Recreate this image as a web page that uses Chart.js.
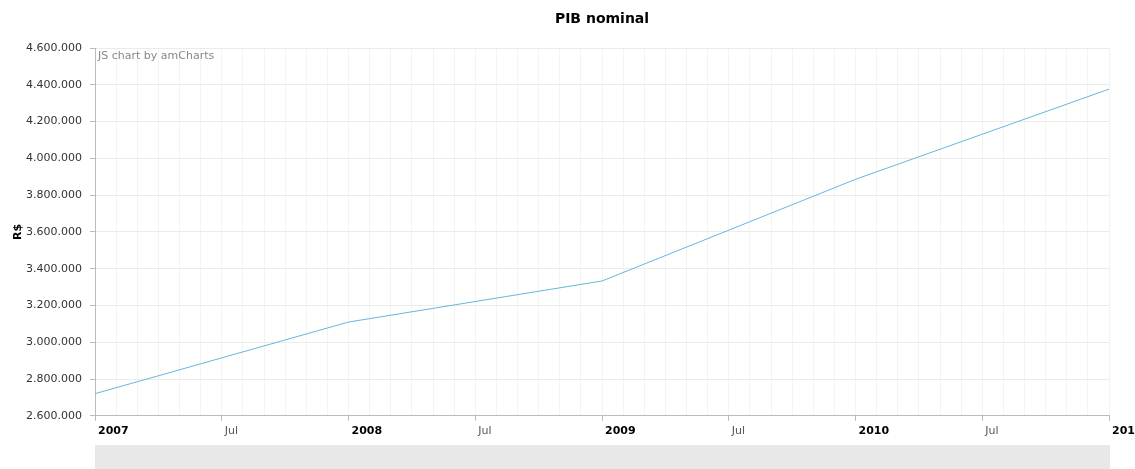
<!DOCTYPE html>
<html>
<head>
<meta charset="utf-8">
<script src="https://cdn.jsdelivr.net/npm/chart.js@4"></script>
<style>
  html, body { margin: 0; padding: 0; background: #fff; }
  #wrap { width: 1135px; height: 469px; position: relative; }
</style>
</head>
<body>
<div id="wrap"><canvas id="c"></canvas></div>
<script>
// ---- data ----
const years = [2007, 2008, 2009, 2010, 2011];
const pibNominal = [2720263, 3109803, 3333039, 3885847, 4376382];
const yTicksMin = 2600000;
const yTicksMax = 4600000;
const yTickStep = 200000;
const midYearLabel = 'Jul';
const chartTitle = 'PIB nominal';
const yAxisTitle = 'R$';
const creditText = 'JS chart by amCharts';

const FONT = "'DejaVu Sans', Verdana, sans-serif";
const firstYear = years[0];
const points = years.map((y, i) => ({ x: (y - firstYear) * 12, y: pibNominal[i] }));
const lastMonth = (years[years.length - 1] - firstYear) * 12;

function fmt(v) {
  return String(Math.round(v)).replace(/\B(?=(\d{3})+(?!\d))/g, '.');
}
function monthLabel(v) {
  if (v % 12 === 0) return String(firstYear + v / 12);
  if (v % 12 === 6) return midYearLabel;
  return '';
}

const decor = {
  id: 'decor',
  afterDraw(chart) {
    const { ctx, chartArea: a } = chart;
    ctx.save();
    ctx.fillStyle = '#e8e8e8';
    ctx.fillRect(a.left, 445, a.right - a.left + 1, 24);
    ctx.fillStyle = '#888';
    ctx.font = '11px ' + FONT;
    ctx.textBaseline = 'middle';
    ctx.textAlign = 'left';
    ctx.fillText(creditText, a.left + 3, a.top + 8);
    ctx.fillStyle = '#000';
    ctx.font = 'bold 14px ' + FONT;
    ctx.textAlign = 'center';
    ctx.fillText(chartTitle, (a.left + a.right) / 2, 19);
    ctx.restore();
  }
};

new Chart(document.getElementById('c'), {
  type: 'line',
  data: {
    datasets: [{
      data: points,
      borderColor: '#67b7dc',
      borderWidth: 1,
      pointRadius: 0,
      tension: 0,
      fill: false
    }]
  },
  options: {
    responsive: true,
    maintainAspectRatio: false,
    animation: false,
    layout: { padding: { left: 0, right: 26, top: 48, bottom: 27 } },
    plugins: {
      legend: { display: false },
      tooltip: { enabled: false },
      title: { display: false }
    },
    scales: {
      x: {
        type: 'linear',
        min: 0,
        max: lastMonth,
        afterFit(s) { s.paddingRight = 0; s.paddingLeft = 0; },
        afterBuildTicks(s) {
          s.ticks = [];
          for (let m = 0; m <= lastMonth; m++) s.ticks.push({ value: m });
        },
        ticks: {
          autoSkip: false,
          maxRotation: 0,
          align: 'start',
          labelOffset: 3,
          padding: 4,
          color: ctx => (ctx.tick && ctx.tick.value % 12 === 0) ? '#000' : '#555',
          font: ctx => ({ family: FONT, size: 11, weight: (ctx.tick && ctx.tick.value % 12 === 0) ? 'bold' : 'normal' }),
          callback: v => monthLabel(v)
        },
        grid: {
          color: '#f3f3f3',
          tickLength: 5,
          tickColor: ctx => (ctx.tick && ctx.tick.value % 6 === 0) ? '#bbb' : 'rgba(0,0,0,0)'
        },
        border: { color: '#bbb', width: 1 }
      },
      y: {
        min: yTicksMin,
        max: yTicksMax,
        afterFit(s) { s.width = 95; },
        ticks: {
          stepSize: yTickStep,
          padding: 8,
          color: '#333',
          font: { family: FONT, size: 11 },
          callback: v => fmt(v)
        },
        grid: { color: '#ebebeb', tickLength: 5, tickColor: '#bbb' },
        border: { color: '#bbb', width: 1 },
        title: {
          display: true,
          text: yAxisTitle,
          color: '#000',
          font: { family: FONT, size: 11, weight: 'bold' },
          padding: { top: 12, bottom: 0 }
        }
      }
    }
  },
  plugins: [decor]
});
</script>
</body>
</html>
